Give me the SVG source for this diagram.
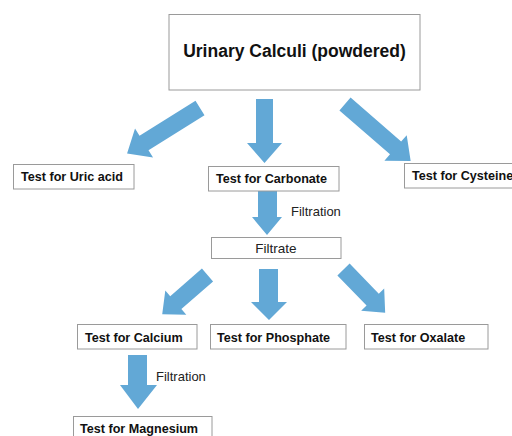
<svg xmlns="http://www.w3.org/2000/svg" width="512" height="436" viewBox="0 0 512 436">
<style>
.box{fill:#fff;stroke:#9a9a9a;stroke-width:1}
.t{font-family:"Liberation Sans",Arial,sans-serif;font-weight:bold;font-size:12.6px;fill:#111}
.n{font-family:"Liberation Sans",Arial,sans-serif;font-size:13px;fill:#222}
.arr{fill:#62A8D6}
</style>
<rect width="512" height="436" fill="#fff"/>
<g id="connectors">
<polygon class="arr" transform="translate(200,108) rotate(58)" points="-8.5,0 8.5,0 8.5,66 17,66 0,86 -17,66 -8.5,66"/>
<polygon class="arr" points="256,99 273,99 273,143 282,143 264.5,163 247,143 256,143"/>
<polygon class="arr" transform="translate(345,104) rotate(-49)" points="-8.5,0 8.5,0 8.5,67 17,67 0,87 -17,67 -8.5,67"/>
<polygon class="arr" points="258,191 277,191 277,217 282,217 267,235 252,217 258,217"/>
<polygon class="arr" transform="translate(207.5,275) rotate(49)" points="-8.5,0 8.5,0 8.5,42 16,42 0,60 -16,42 -8.5,42"/>
<polygon class="arr" points="259,269 278,269 278,302 287,302 269,320 251,302 259,302"/>
<polygon class="arr" transform="translate(343.5,269.5) rotate(-44)" points="-8.5,0 8.5,0 8.5,42 16,42 0,60 -16,42 -8.5,42"/>
<polygon class="arr" points="128,355 147,355 147,385 157,385 138,409 120,385 128,385"/>
<text class="n" x="291" y="216">Filtration</text>
<text class="n" x="156" y="381">Filtration</text>
</g>
<g id="root"><rect class="box" x="169" y="14.5" width="251" height="75.5"/><text class="t" style="font-size:17.5px" x="294.5" y="57" text-anchor="middle">Urinary Calculi (powdered)</text></g>
<g id="uric"><rect class="box" x="13.5" y="164.5" width="120.5" height="24.5"/><text class="t" x="21" y="181">Test for Uric acid</text></g>
<g id="carbonate"><rect class="box" x="208.5" y="166.5" width="130.5" height="24.5"/><text class="t" x="216" y="183">Test for Carbonate</text></g>
<g id="cysteine"><rect class="box" x="404.5" y="163.5" width="120" height="24.5"/><text class="t" x="412" y="180">Test for Cysteine</text></g>
<g id="filtrate"><rect class="box" x="211.5" y="237.5" width="129.5" height="21"/><text class="n" x="276" y="253" text-anchor="middle" style="font-size:13.5px">Filtrate</text></g>
<g id="calcium"><rect class="box" x="77.5" y="324.5" width="119.5" height="24.5"/><text class="t" x="85" y="342">Test for Calcium</text></g>
<g id="phosphate"><rect class="box" x="210.5" y="324.5" width="135.5" height="24.5"/><text class="t" x="217" y="342">Test for Phosphate</text></g>
<g id="oxalate"><rect class="box" x="364.5" y="324.5" width="123.5" height="24.5"/><text class="t" x="371" y="342">Test for Oxalate</text></g>
<g id="magnesium"><rect class="box" x="73.5" y="416.5" width="138.5" height="30"/><text class="t" x="80" y="433">Test for Magnesium</text></g>
</svg>
